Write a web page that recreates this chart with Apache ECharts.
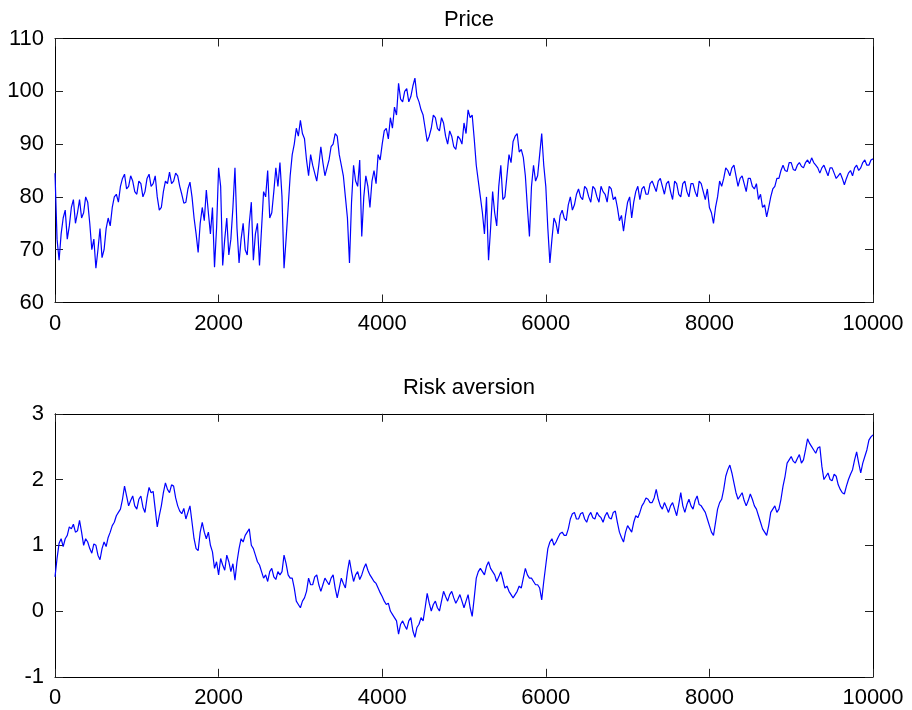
<!DOCTYPE html>
<html>
<head>
<meta charset="utf-8">
<script src="https://cdn.jsdelivr.net/npm/echarts@6/dist/echarts.min.js"></script>
<style>html,body{margin:0;padding:0;background:#fff;}#c{width:912px;height:710px;}</style>
</head>
<body>
<div id="c"></div>
<script>
// sampling: values read at x = 0, 50, 100, ... (main) and x = 25, 75, ... (mid)
const step = 50;
const xTicks = [0, 2000, 4000, 6000, 8000, 10000];
const priceTicks = [60, 70, 80, 90, 100, 110];
const riskTicks = [-1, 0, 1, 2, 3];

const priceMain = [
84.5,68,76,72,78,75,79.5,77,79,70,
66.5,74,70,76,78,80.5,82,84.3,82,83,
80.5,82.5,81,84.3,82.5,80,78,83,84.7,83,
84,80.5,79,82.8,76,69.5,78,81.3,73,66.7,
85.5,67,76,72,85.5,67.5,75,69,79,73,
67,81,85,77,85.5,86.5,66.5,78,88,93,
94.5,91,84,86,83,89.5,84,87,90,91.5,
86,80,67.5,86,82,72.5,84,78,85,88,
90,93,95,97,101.5,98,100.5,99,102.5,98,
95.5,90.5,93,95,92.5,94,90,91.5,89,91,
94,96.5,95.5,86,80,73,68,81,74.5,86,
80,88,90.5,92,89,84,72.5,86,84,92,
82,67.5,76,73,77.5,75.5,80,78.5,81.5,79.5,
81.5,79,81.5,79,81,79,81.5,80,75.5,73.5,
79,76,81,79.5,82,80.5,83,81,83.5,80.5,
83,79.5,82.5,80,83,80,82.5,80,82.5,79.5,
78,75,80,82,85.5,84,86,82,84,81,
83.5,81.5,79.5,78,76.2,80,82,83.5,86,84.8,
86.5,85,86.5,85.5,87,87.4,86,84.5,86,84,
85.5,83.5,84.5,82.3,84.5,84,86,85.5,87,86,
87.2
];
const priceMid = [
72,73,77.5,74.5,79.5,77,76,80,75,72,
70,68.5,74,74.5,80,79,83.5,81.5,84,81,
83,80,83.5,82,84,77.5,81,82.5,82.5,84.5,
82,78.8,81.5,80,73,75,75.5,77,78,74,
82,72,69,78,74,72,70,75,68,75,
74,80,76,81,82,80,72,84,90,91.5,
92,87,88,84.5,86,86.5,85.5,89.5,92,88,
84,76,79,83,87,80,82,83,82.5,87,
92.5,91,93,95.5,98.5,100,98,101,99,96.5,
93,91.5,95.5,93,95,91.5,92.5,89.5,91.5,90,
92,95,91,83,77,80,74,77,82,79.5,
84,86.5,91.5,88.5,87.5,78,82,83,88,86,
74,72,75,76.5,76,78.5,77.5,80.5,80,82,
80,82,80,82,80.5,82,79.5,78,76.5,76.5,
80,79,82,81.5,80.5,82.5,82,83,82,82.5,
81,83,80.5,82.5,81,82.5,81,83,81,81.5,
77,78,83,83.5,85,85.5,84,83.5,82.5,83.5,
82,82.5,80.5,78.5,78,81.5,83.5,85,85,86.5,
85.2,86,85.8,86.5,86.3,86.5,85.5,85.5,85,85.5,
84.5,84,83.5,83.5,85,85.5,85,86.5,86,87
];

const riskMain = [
0.52,1.03,0.98,1.15,1.25,1.2,1.38,1.0,1.05,0.88,
1.0,0.78,1.05,1.12,1.3,1.45,1.55,1.9,1.6,1.75,
1.55,1.75,1.5,1.88,1.82,1.28,1.6,1.95,1.8,1.9,
1.6,1.48,1.4,1.6,1.1,0.92,1.35,1.1,1.0,0.65,
0.55,0.7,0.85,0.6,0.47,0.95,1.05,1.2,1.0,0.85,
0.7,0.5,0.45,0.65,0.48,0.55,0.85,0.55,0.5,0.15,
0.05,0.2,0.5,0.4,0.55,0.3,0.5,0.4,0.55,0.2,
0.5,0.35,0.78,0.45,0.6,0.55,0.72,0.55,0.45,0.35,
0.22,0.1,0.0,-0.1,-0.35,-0.15,-0.28,-0.1,-0.4,-0.2,
-0.15,0.27,0.0,0.15,0.0,0.3,0.15,0.3,0.12,0.25,
0.05,0.25,-0.08,0.5,0.65,0.55,0.75,0.6,0.45,0.6,
0.35,0.3,0.2,0.3,0.35,0.65,0.5,0.45,0.4,0.17,
0.7,1.05,1.0,1.12,1.2,1.15,1.4,1.5,1.4,1.5,
1.35,1.5,1.4,1.45,1.35,1.5,1.4,1.52,1.2,1.05,
1.3,1.2,1.45,1.5,1.65,1.7,1.65,1.85,1.6,1.65,
1.5,1.65,1.45,1.8,1.5,1.7,1.55,1.75,1.6,1.5,
1.3,1.15,1.55,1.7,2.05,2.22,1.95,1.7,1.8,1.6,
1.78,1.6,1.45,1.25,1.15,1.5,1.6,1.55,1.9,2.25,
2.35,2.25,2.38,2.3,2.62,2.5,2.4,2.5,2.0,2.1,
1.98,2.05,1.85,1.78,2.0,2.15,2.42,2.1,2.35,2.6,
2.68
];
const riskMid = [
0.8,1.1,1.1,1.28,1.32,1.22,1.2,1.1,0.95,1.02,
0.85,0.95,0.98,1.2,1.35,1.5,1.7,1.75,1.68,1.6,
1.7,1.58,1.72,1.8,1.55,1.45,1.8,1.85,1.92,1.72,
1.52,1.56,1.5,1.35,0.95,1.2,1.2,1.2,0.9,0.75,
0.8,0.62,0.75,0.72,0.75,1.1,1.15,1.25,0.95,0.75,
0.6,0.55,0.6,0.52,0.6,0.6,0.72,0.5,0.35,0.1,
0.15,0.3,0.4,0.52,0.4,0.4,0.45,0.5,0.35,0.35,
0.42,0.6,0.6,0.55,0.48,0.65,0.62,0.5,0.42,0.28,
0.15,0.12,-0.05,-0.15,-0.2,-0.22,-0.15,-0.3,-0.25,-0.1,
0.05,0.12,0.1,0.05,0.15,0.22,0.25,0.2,0.18,0.15,
0.15,0.05,0.2,0.6,0.6,0.68,0.65,0.55,0.52,0.48,
0.38,0.25,0.25,0.38,0.5,0.55,0.5,0.4,0.35,0.45,
0.95,1.1,1.05,1.18,1.15,1.25,1.48,1.4,1.48,1.4,
1.45,1.42,1.5,1.42,1.45,1.42,1.5,1.35,1.12,1.2,
1.25,1.35,1.42,1.6,1.72,1.65,1.72,1.7,1.55,1.58,
1.6,1.55,1.62,1.6,1.62,1.6,1.68,1.62,1.55,1.4,
1.2,1.35,1.65,1.85,2.15,2.1,1.8,1.75,1.68,1.68,
1.7,1.55,1.35,1.2,1.3,1.55,1.5,1.7,2.05,2.3,
2.28,2.32,2.25,2.45,2.55,2.45,2.48,2.2,2.05,2.0,
2.08,1.92,1.8,1.9,2.08,2.3,2.25,2.25,2.45,2.65
];

const FONT = '"Liberation Sans", Arial, Helvetica, sans-serif';
function merge(main, mid) {
  const out = [];
  for (let i = 0; i < main.length; i++) {
    out.push([i * step, main[i]]);
    if (i < mid.length) out.push([i * step + step / 2, mid[i]]);
  }
  return out;
}

function xAx(grid, pos, labels) {
  return {
    type: 'value', gridIndex: grid, position: pos,
    min: xTicks[0], max: xTicks[xTicks.length - 1], interval: xTicks[1] - xTicks[0],
    axisLine: {show: true, onZero: false, lineStyle: {color: '#000', width: 1}},
    axisTick: {show: true, inside: true, length: 8, lineStyle: {color: '#222'}},
    axisLabel: {show: labels, color: '#000', fontFamily: FONT, fontSize: 22, margin: 10,
                formatter: v => String(v)},
    splitLine: {show: false}
  };
}
function yAx(grid, pos, ticks, labels) {
  return {
    type: 'value', gridIndex: grid, position: pos,
    min: ticks[0], max: ticks[ticks.length - 1], interval: ticks[1] - ticks[0],
    axisLine: {show: true, onZero: false, lineStyle: {color: '#000', width: 1}},
    axisTick: {show: true, inside: true, length: 8, lineStyle: {color: '#222'}},
    axisLabel: {show: labels, color: '#000', fontFamily: FONT, fontSize: 22, margin: 11,
                formatter: v => String(v)},
    splitLine: {show: false}
  };
}

const chart = echarts.init(document.getElementById('c'), null, {renderer: 'canvas'});
chart.setOption({
  animation: false,
  backgroundColor: '#fff',
  title: [
    {text: 'Price', left: 464, top: 4, textAlign: 'center',
     textStyle: {fontFamily: FONT, fontSize: 22, fontWeight: 'normal', color: '#000'}},
    {text: 'Risk aversion', left: 464, top: 372, textAlign: 'center',
     textStyle: {fontFamily: FONT, fontSize: 22, fontWeight: 'normal', color: '#000'}}
  ],
  grid: [
    {left: 55, right: 39, top: 38.5, height: 264},
    {left: 55, right: 39, top: 413.8, height: 263}
  ],
  xAxis: [xAx(0, 'bottom', true), xAx(0, 'top', false), xAx(1, 'bottom', true), xAx(1, 'top', false)],
  yAxis: [yAx(0, 'left', priceTicks, true), yAx(0, 'right', priceTicks, false),
          yAx(1, 'left', riskTicks, true), yAx(1, 'right', riskTicks, false)],
  series: [
    {type: 'line', xAxisIndex: 0, yAxisIndex: 0, data: merge(priceMain, priceMid), showSymbol: false,
     lineStyle: {color: '#0000ff', width: 1.2}, itemStyle: {color: '#0000ff'}},
    {type: 'line', xAxisIndex: 2, yAxisIndex: 2, data: merge(riskMain, riskMid), showSymbol: false,
     lineStyle: {color: '#0000ff', width: 1.2}, itemStyle: {color: '#0000ff'}}
  ]
});
</script>
</body>
</html>
